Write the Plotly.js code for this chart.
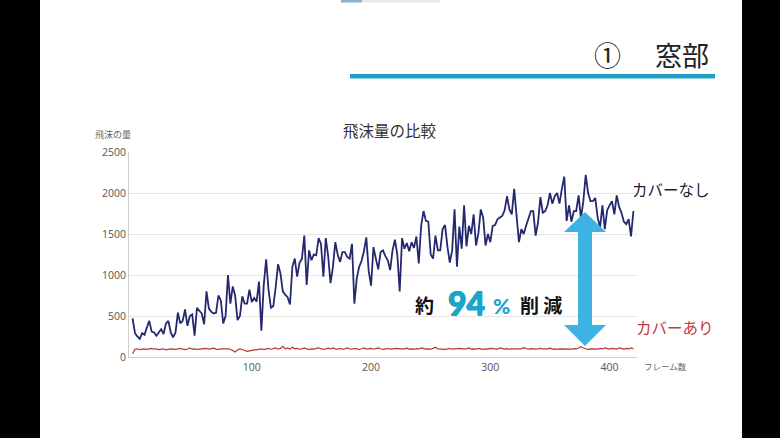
<!DOCTYPE html>
<html><head><meta charset="utf-8">
<script src="https://cdn.plot.ly/plotly-3.0.1.min.js"></script>
<style>html,body{margin:0;padding:0;background:#fff;}#chart{width:780px;height:438px;}</style>
</head><body><div id="chart"></div>
<script>
// frame numbers start at 0, one sample every 2 frames
const frameStart = 0;
const frameStep = 2;

// 飛沫の量 – カバーなし (frames 0..420)
const coverOff = [
  470, 290, 250, 220, 290, 270, 360, 440, 310, 300, 260, 300, 340, 280, 410, 440, 300, 240, 300, 540,
  410, 440, 580, 380, 500, 520, 260, 600, 560, 530, 400, 800, 590, 550, 530, 540, 750, 690, 410, 500, 1000,
  650, 860, 750, 450, 500, 740, 650, 650, 820, 670, 720, 675, 920, 320, 880, 1190, 820, 600, 620, 850,
  1130, 1020, 800, 760, 730, 640, 1100, 1200, 980, 1150, 1200, 1480, 880, 1300, 1180, 1250, 1240, 1450, 1380, 980, 1450,
  1230, 900, 1100, 1400, 1250, 1160, 1280, 1280, 1220, 1200, 1380, 650, 960, 1100, 1170, 1290, 1460, 1050, 870, 1340,
  1200, 1070, 1280, 1300, 1230, 1180, 1060, 1300, 1430, 1250, 800, 1450, 1320, 1390, 1290, 1400, 1330, 1470, 1140, 1600,
  1780, 1660,
  1650, 1250, 1200, 1480, 1300, 1300, 1560, 1610, 1350, 1150, 1300, 1800, 1100, 1590, 1320, 1850, 1350, 1600, 1500, 1740,
  1360, 1510, 1800, 1700, 1360, 1500, 1400, 1600, 1610, 1680, 1700, 1720, 1790, 1960, 1800, 1740, 2050, 1700, 1400, 1560,
  1500, 1600,
  1700, 1780, 1780, 1480, 1640, 1950, 1760, 1780, 1850, 2000, 1870, 1960, 2000, 1870, 2050, 2200, 1660, 1850, 1650, 1780,
  1780, 1970, 1690, 1900, 2220, 2000, 1900, 1900, 1940, 1700, 1580, 1850, 1560, 1790, 1850, 1900, 1740, 1970, 1830, 1760,
  1650, 1620, 1680, 1470, 1780
];

// 飛沫の量 – カバーあり (frames 0..420)
const coverOn = [
  40, 95, 100, 90, 95, 100, 92, 98, 105, 95,
  100, 90, 95, 100, 88, 95, 100, 96, 92, 100,
  105, 95, 90, 98, 110, 95, 100, 92, 96, 100,
  98, 104, 95, 100, 108, 96, 92, 100, 95, 98,
  100, 95, 80, 60, 85, 100, 92, 80, 70, 75,
  80, 78, 85, 95, 100, 90, 98, 105, 95, 100,
  110, 95, 105, 130, 100, 110, 95, 120, 100, 105,
  95, 100, 110, 98, 92, 100, 95, 105, 112, 100,
  95, 100, 108, 98, 110, 100, 96, 105, 95, 100,
  112, 100, 95, 105, 98, 92, 100, 110, 96, 100,
  105, 95, 100, 110, 100, 92, 98, 105, 95, 100,
  96, 104, 98, 95, 100, 108, 97, 100, 95, 102,
  98, 110, 104, 96, 100, 95, 105, 120, 100, 96,
  100, 92, 98, 105, 95, 100, 96, 104, 98, 95,
  100, 110, 96, 100, 95, 105, 98, 92, 100, 96,
  104, 98, 100, 95, 110, 100, 96, 102, 95, 100,
  98, 104, 96, 100, 115, 100, 95, 102, 98, 96,
  100, 105, 98, 95, 100, 108, 96, 100, 94, 100,
  98, 104, 96, 100, 95, 102, 98, 110, 125, 110,
  100, 92, 98, 95, 100, 96, 104, 98, 110, 100,
  96, 105, 100, 95, 110, 100, 96, 104, 98, 110,
  100
];

const xTicks = [100, 200, 300, 400];
const yTicks = [0, 500, 1000, 1500, 2000, 2500];

// pixel -> paper helpers (plot area 129..637 x 152..357)
const L = 129, R = 637, T = 152, B = 357;
const px = x => (x - L) / (R - L);
const py = y => (B - y) / (B - T);

const jp = '"Noto Sans CJK JP", "Noto Sans", sans-serif';
const heavy = 'Lato, "DejaVu Sans", sans-serif';

const traces = [
  { type: 'scatter', mode: 'lines', x0: frameStart, dx: frameStep, y: coverOn,
    line: { color: '#b3343a', width: 1.2 }, hoverinfo: 'skip', showlegend: false },
  { type: 'scatter', mode: 'lines', x0: frameStart, dx: frameStep, y: coverOff,
    line: { color: '#24286f', width: 1.8 }, hoverinfo: 'skip', showlegend: false }
];

function rect(x0, y0, x1, y1, color, layer) {
  return { type: 'rect', xref: 'paper', yref: 'paper', x0: px(x0), x1: px(x1), y0: py(y1), y1: py(y0),
           fillcolor: color, line: { width: 0 }, layer: layer || 'above' };
}

// double-headed arrow path
const ax = 585, hw = 21, sw = 7;
const arrowPts = [
  [ax, 212], [ax + hw, 232], [ax + sw, 232], [ax + sw, 325], [ax + hw, 325], [ax, 346],
  [ax - hw, 325], [ax - sw, 325], [ax - sw, 232], [ax - hw, 232]
];
const arrowPath = 'M ' + arrowPts.map(p => px(p[0]) + ',' + py(p[1])).join(' L ') + ' Z';

const shapes = [
  rect(0, 0, 40, 438, '#000'),
  rect(742, 0, 780, 438, '#000'),
  rect(341, 0, 362, 2.5, '#8fb1cf'),
  rect(362, 0, 440, 2.5, '#e6e9ec'),
  rect(350, 74, 715, 78.5, '#1fa0c2'),
  { type: 'path', xref: 'paper', yref: 'paper', path: arrowPath, fillcolor: '#3cb3e3', line: { width: 0 }, layer: 'above' }
];

function ann(text, x, y, size, color, family, extraFont, opts) {
  return Object.assign({ text: text, xref: 'paper', yref: 'paper', x: px(x), y: py(y),
    xanchor: 'center', yanchor: 'middle', showarrow: false,
    font: Object.assign({ family: family || jp, size: size, color: color }, extraFont || {}) }, opts || {});
}

const thick = c => ({ weight: 900, shadow: `0.5px 0 0 ${c}, -0.5px 0 0 ${c}, 0 0.5px 0 ${c}, 0 -0.5px 0 ${c}` });

const annotations = [
  ann('①', 607, 54, 27, '#222'),
  ann('窓部', 711, 54, 27, '#222', jp, null, { xanchor: 'right' }),
  ann('飛沫量の比較', 390, 130, 15.5, '#333'),
  ann('飛沫の量', 113, 134, 9, '#666'),
  ann('フレーム数', 665, 365.5, 8.5, '#666'),
  ann('カバーなし', 671, 189, 15.5, '#1c1c2a'),
  ann('カバーあり', 675, 327, 15.5, '#c23b3b'),
  ann('約', 424, 304, 19, '#111', jp, { weight: 700 }),
  ann('94', 466, 302, 32, '#1da5c9', heavy, thick('#1da5c9')),
  ann('%', 501, 305, 21, '#1da5c9', heavy, { weight: 900 }),
  ann('削 減', 541, 304, 19, '#111', jp, { weight: 700 })
];

const layout = {
  width: 780, height: 438, autosize: false,
  margin: { l: L, r: 780 - R, t: T, b: 438 - B, pad: 0 },
  paper_bgcolor: '#fff', plot_bgcolor: '#fff',
  showlegend: false,
  xaxis: { range: [-3, 423], tickvals: xTicks, ticktext: xTicks.map(String), showgrid: false, zeroline: false,
           showline: true, linecolor: '#cfcfcf', linewidth: 1, ticks: '',
           tickfont: { family: '"Open Sans", "Noto Sans", sans-serif', size: 10.5, color: '#555' } },
  yaxis: { range: [0, 2500], tickvals: yTicks, ticktext: yTicks.map(String), showgrid: true, gridcolor: '#e6e6e6',
           zeroline: false, showline: true, linecolor: '#cfcfcf', linewidth: 1, ticks: '',
           tickfont: { family: '"Open Sans", "Noto Sans", sans-serif', size: 10.5, color: '#555' } },
  shapes: shapes,
  annotations: annotations
};

Plotly.newPlot('chart', traces, layout, { staticPlot: true, displayModeBar: false });
</script>
</body></html>
